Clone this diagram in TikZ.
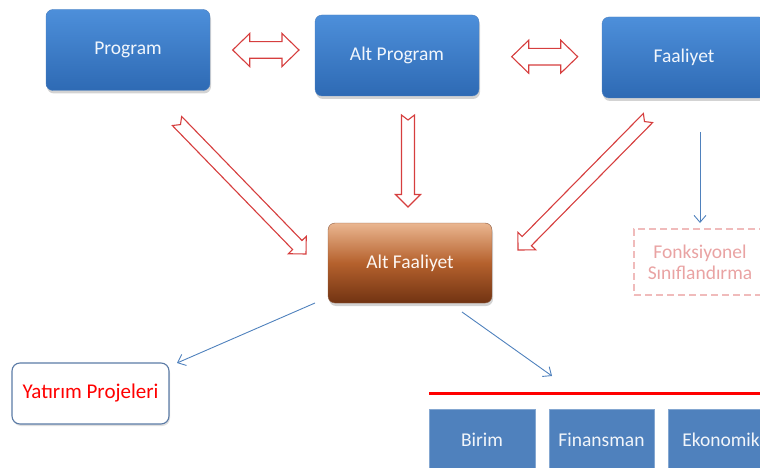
\documentclass[tikz,border=0pt]{standalone}
\usepackage{fontspec}
\setmainfont{Carlito}
\usetikzlibrary{calc, arrows.meta, shadows}
\definecolor{progBlue}{HTML}{4D8FDA}
\definecolor{progBlueDark}{HTML}{2E6AB4}
\definecolor{subTan}{HTML}{EAB690}
\definecolor{subBrown}{HTML}{B5612D}
\definecolor{subDark}{HTML}{713312}
\definecolor{arrRed}{HTML}{D63E3E}
\definecolor{linkBlue}{HTML}{4F81BD}
\definecolor{fsPink}{HTML}{F0BBBB}
\definecolor{fsText}{HTML}{E9A3A3}
\definecolor{ypBorder}{HTML}{5B7BA6}

% hollow arrow: name, tail, tip
\newcommand{\hollowarrow}[3]{%
  \coordinate (#1-b) at ($(#3)!12.5pt!(#2)$);
  \draw[hollow] ($(#2)!5pt!(#3)$)
    -- ($(#2)!6.5pt!90:(#3)$) -- ($(#1-b)!6.5pt!90:(#3)$)
    -- ($(#1-b)!12.5pt!90:(#3)$) -- (#3)
    -- ($(#1-b)!12.5pt!-90:(#3)$) -- ($(#1-b)!6.5pt!-90:(#3)$)
    -- ($(#2)!6.5pt!-90:(#3)$) -- cycle;
}
% hollow double arrow: name, end, end
\newcommand{\hollowdarrow}[3]{%
  \coordinate (#1-a) at ($(#2)!17pt!(#3)$);
  \coordinate (#1-b) at ($(#3)!17pt!(#2)$);
  \draw[hollow] (#2)
    -- ($(#1-a)!16.5pt!90:(#3)$) -- ($(#1-a)!8.3pt!90:(#3)$)
    -- ($(#1-b)!8.3pt!90:(#3)$) -- ($(#1-b)!16.5pt!90:(#3)$)
    -- (#3)
    -- ($(#1-b)!16.5pt!-90:(#3)$) -- ($(#1-b)!8.3pt!-90:(#3)$)
    -- ($(#1-a)!8.3pt!-90:(#3)$) -- ($(#1-a)!16.5pt!-90:(#3)$)
    -- cycle;
}

\begin{document}
\begin{tikzpicture}[
    x=1pt, y=-1pt,
    boxfont/.style={font=\fontsize{19.5}{21}\selectfont},
    topbox/.style={boxfont, rounded corners=7pt, minimum width=164pt, minimum height=81pt,
        top color=progBlue, bottom color=progBlueDark, draw=progBlueDark!85, text=white!92!progBlue,
        drop shadow={opacity=0.35, shadow xshift=1pt, shadow yshift=-3pt}},
    subbox/.style={boxfont, rounded corners=7pt, minimum width=164pt, minimum height=80pt,
        top color=subTan, bottom color=subDark, middle color=subBrown, draw=subDark!80,
        text=white!88!subTan, drop shadow={opacity=0.35, shadow xshift=1pt, shadow yshift=-3pt}},
    fsbox/.style={boxfont, draw=fsPink, line width=1.6pt, dash pattern=on 7pt off 4pt,
        minimum width=132pt, minimum height=66pt, align=center, text=fsText},
    ypbox/.style={font=\fontsize{21}{23}\selectfont, draw=ypBorder, line width=1.1pt, rounded corners=8pt,
        minimum width=157pt, minimum height=61pt, text=red, fill=white,
        drop shadow={opacity=0.25, shadow xshift=1pt, shadow yshift=-2pt}},
    catbox/.style={boxfont, fill=linkBlue, draw=linkBlue!70!white, minimum height=62pt, text=white!92!linkBlue},
    hollow/.style={draw=arrRed, fill=white, line width=1.1pt, line join=miter},
    link/.style={draw=linkBlue, line width=0.9pt, -{Straight Barb[length=7pt, width=12pt]}},
]
    \clip (0,0) rectangle (760,468);

    % Top row
    \node[topbox] (prog) at (128,50) {Program};
    \node[topbox] (altprog) at (397,55.5) {Alt Program};
    \node[topbox] (faal) at (684,57.5) {Faaliyet};

    % Middle
    \node[subbox] (altfaal) at (410,263) {Alt Faaliyet};
    \node[fsbox] (fonk) at (700,262) {Fonksiyonel\\Sınıflandırma};

    % Bottom
    \node[ypbox] (yatirim) at (90.5,393.5) {Yatırım Projeleri};
    \node[catbox, minimum width=106pt] (birim) at (482,440) {Birim};
    \node[catbox, minimum width=105pt] (finans) at (601.5,440) {Finansman};
    \node[catbox, minimum width=106pt] (ekon) at (721,440) {Ekonomik};

    % Hollow arrows
    \coordinate (pa-l) at (232.7,50);
    \coordinate (pa-r) at (299,50);
    \coordinate (af-l) at (511.7,56.7);
    \coordinate (af-r) at (577.7,56.7);
    \hollowdarrow{pa}{pa-l}{pa-r}
    \hollowdarrow{af}{af-l}{af-r}

    \coordinate (d1-tail) at (177,121);
    \coordinate (d1-tip) at (306,254);
    \coordinate (v-tail) at (408,115);
    \coordinate (v-tip) at (408,207);
    \coordinate (d2-tail) at (648,118);
    \coordinate (d2-tip) at (518,250);
    \hollowarrow{d1}{d1-tail}{d1-tip}
    \hollowarrow{v}{v-tail}{v-tip}
    \hollowarrow{d2}{d2-tail}{d2-tip}

    % Thin links
    \coordinate (faal-out) at (700,132);
    \coordinate (fonk-in) at (700,223);
    \coordinate (altfaal-l) at (315,303);
    \coordinate (yatirim-in) at (177,363);
    \coordinate (altfaal-r) at (462,312);
    \coordinate (cat-in) at (552,376);
    \draw[link] (faal-out) -- (fonk-in);
    \draw[link] (altfaal-l) -- (yatirim-in);
    \draw[link] (altfaal-r) -- (cat-in);

    % Red rule over categories
    \coordinate (rule-l) at (429,393);
    \coordinate (rule-r) at (760,393);
    \draw[red, line width=3pt] (rule-l) -- (rule-r);
\end{tikzpicture}
\end{document}
